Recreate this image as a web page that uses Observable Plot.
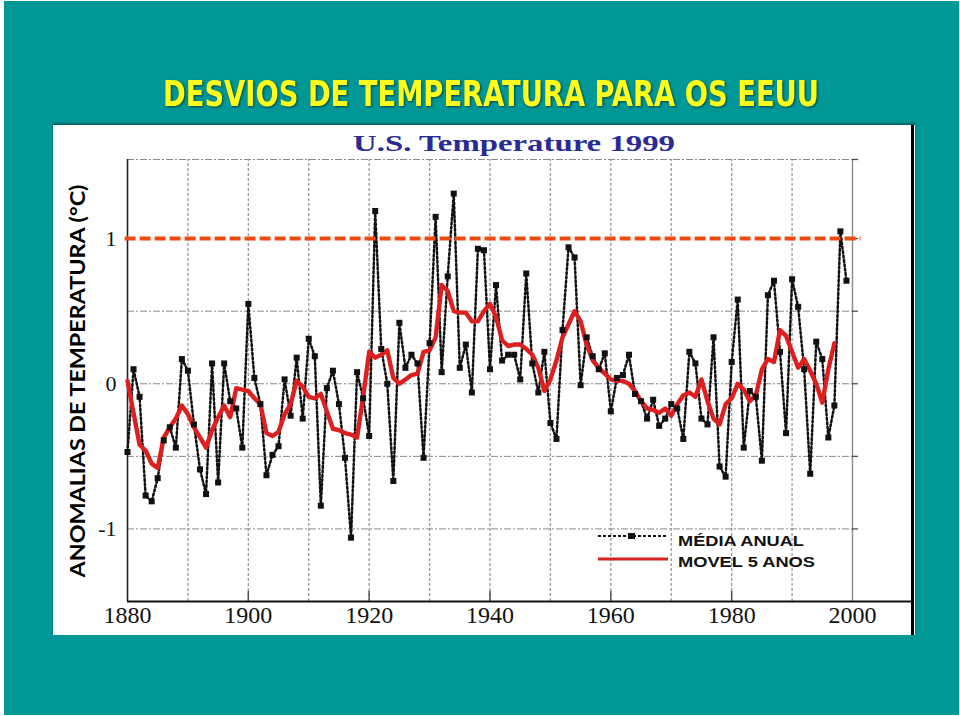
<!DOCTYPE html>
<html>
<head>
<meta charset="utf-8">
<script src="https://cdn.jsdelivr.net/npm/d3@7"></script>
<script src="https://cdn.jsdelivr.net/npm/@observablehq/plot@0.6"></script>
<style>
  html, body { margin: 0; padding: 0; }
  body { width: 960px; height: 716px; background: #009797; position: relative; overflow: hidden; }
  #edge { position: absolute; left: 0; top: 0; width: 960px; height: 716px; box-shadow: inset 4px 1px 0 0 #fff, inset -1px -1px 0 0 #fff; pointer-events: none; }
  #panel { position: absolute; left: 53px; top: 125px; width: 862px; height: 510px; background: #fff; box-shadow: 0 -2px 2px rgba(0,0,0,0.35); }
  #rborder { position: absolute; left: 911px; top: 125px; width: 3px; height: 510px; background: #000; }
  #overlay { position: absolute; left: 0; top: 0; }
</style>
</head>
<body>
<div id="edge"></div>
<div id="panel"></div>
<div id="rborder"></div>
<svg id="overlay" width="960" height="716"></svg>
<script>
// ---- data ----
const annualYears = d3.range(1880, 2000);
const annualValues = [
  -0.47, 0.10, -0.09, -0.77, -0.81, -0.65, -0.39, -0.30, -0.44, 0.17,   // 1880s
   0.09, -0.28, -0.59, -0.76, 0.14, -0.68, 0.14, -0.12, -0.17, -0.44,   // 1890s
   0.55, 0.04, -0.14, -0.63, -0.49, -0.43, 0.03, -0.22, 0.18, -0.24,    // 1900s
   0.31, 0.19, -0.84, -0.03, 0.09, -0.14, -0.51, -1.06, 0.08, -0.10,    // 1910s
  -0.36, 1.19, 0.24, 0.00, -0.67, 0.42, 0.11, 0.20, 0.14, -0.51,        // 1920s
   0.28, 1.15, 0.08, 0.74, 1.31, 0.11, 0.27, -0.06, 0.93, 0.92,         // 1930s
   0.10, 0.68, 0.16, 0.20, 0.20, 0.03, 0.76, 0.14, -0.06, 0.22,         // 1940s
  -0.27, -0.38, 0.37, 0.94, 0.87, -0.01, 0.32, 0.19, 0.10, 0.21,        // 1950s
  -0.19, 0.04, 0.06, 0.20, -0.07, -0.12, -0.24, -0.11, -0.29, -0.24,    // 1960s
  -0.14, -0.17, -0.38, 0.22, 0.14, -0.24, -0.28, 0.32, -0.57, -0.64,    // 1970s
   0.15, 0.58, -0.44, -0.05, -0.09, -0.53, 0.61, 0.71, 0.22, -0.34,     // 1980s
   0.72, 0.53, 0.10, -0.62, 0.29, 0.17, -0.37, -0.15, 1.05, 0.71        // 1990s
];
const movingYears = d3.range(1880, 1998);
const movingValues = [
   0.02, -0.20, -0.42, -0.46, -0.55, -0.58, -0.37, -0.30, -0.24, -0.15, // 1880s
  -0.21, -0.30, -0.37, -0.44, -0.32, -0.23, -0.15, -0.23, -0.03, -0.04, // 1890s
  -0.05, -0.10, -0.14, -0.34, -0.36, -0.33, -0.21, -0.14, 0.02, -0.02,  // 1900s
  -0.09, -0.10, -0.07, -0.19, -0.31, -0.32, -0.34, -0.35, -0.37, -0.09, // 1910s
   0.22, 0.18, 0.20, 0.23, 0.04, 0.00, 0.03, 0.06, 0.07, 0.22,          // 1920s
   0.23, 0.32, 0.68, 0.64, 0.50, 0.49, 0.49, 0.43, 0.43, 0.50,          // 1930s
   0.55, 0.46, 0.30, 0.26, 0.27, 0.27, 0.24, 0.20, 0.11, -0.05,         // 1940s
   0.03, 0.16, 0.32, 0.41, 0.50, 0.43, 0.27, 0.16, 0.11, 0.07,          // 1950s
   0.03, 0.02, 0.02, 0.00, -0.05, -0.12, -0.17, -0.18, -0.20, -0.17,    // 1960s
  -0.22, -0.14, -0.08, -0.06, -0.09, 0.03, -0.12, -0.24, -0.28, -0.14,  // 1970s
  -0.10, 0.00, -0.04, -0.12, -0.08, 0.10, 0.17, 0.15, 0.37, 0.33,       // 1980s
   0.22, 0.11, 0.17, 0.09, 0.00, -0.13, 0.10, 0.28                      // 1990s
];
const xTickYears = [1880, 1900, 1920, 1940, 1960, 1980, 2000];
const yTickValues = [-1, 0, 1];
const gridYears = [1890, 1900, 1910, 1920, 1930, 1940, 1950, 1960, 1970, 1980, 1990];
const gridValues = [-1, -0.5, 0, 0.5, 1.545];
const refLevel = [1];
const titleText = "DESVIOS DE TEMPERATURA PARA OS EEUU";
const innerTitle = "U.S. Temperature 1999";
const yLabel = "ANOMALIAS DE TEMPERATURA (°C)";
const legendLabels = ["MÉDIA ANUAL", "MOVEL 5 ANOS"];

const annual = annualYears.map((y, i) => ({year: y, value: annualValues[i]}));
const moving = movingYears.map((y, i) => ({year: y, value: movingValues[i]}));

const serif = "Liberation Serif, Times New Roman, serif";

const chart = Plot.plot({
  width: 862,
  height: 510,
  marginLeft: 74,
  marginRight: 63,
  marginTop: 34,
  marginBottom: 34,
  x: {domain: [1880, 2000], axis: null},
  y: {domain: [-1.5, 1.545], axis: null},
  style: {background: "transparent", overflow: "visible"},
  marks: [
    // grid
    Plot.ruleX(gridYears, {y1: -1.5, y2: 1.545, stroke: "#9a9a9a", strokeWidth: 1.3, strokeDasharray: "3,2"}),
    Plot.ruleY(gridValues, {x1: 1880, x2: 2000, stroke: "#8a8a8a", strokeWidth: 1, strokeDasharray: "7,2,2,2"}),
    Plot.ruleX([2000], {y1: -1.5, y2: 1.545, stroke: "#8a8a8a", strokeWidth: 1.4}),
    Plot.ruleY([1.545, 1, 0.5, 0, -0.5, -1], {x1: 2000, x2: 2001, stroke: "#444", strokeWidth: 1.2}),
    Plot.ruleX(xTickYears.slice(1, -1), {y1: -1.5, y2: -1.43, stroke: "#555", strokeWidth: 1.5}),
    // frame
    Plot.ruleX([1880], {y1: -1.5, y2: 1.545, stroke: "#222", strokeWidth: 1.6}),
    Plot.ruleY([-1.5], {x1: 1880, x2: 2010, stroke: "#111", strokeWidth: 2}),
    // axes
    Plot.axisX(xTickYears, {anchor: "bottom", label: null, tickSize: 0, tickPadding: 4, fontSize: 24, fontFamily: serif, fill: "#111", tickFormat: d => String(d)}),
    Plot.axisY(yTickValues, {anchor: "left", label: null, tickSize: 0, tickPadding: 11, fontSize: 22, fontFamily: serif, fill: "#111", tickFormat: d => String(d)}),
    // annual series (dotted)
    Plot.line(annual, {x: "year", y: "value", stroke: "#111", strokeWidth: 2.5, strokeDasharray: "2,2.4"}),
    // 5-year moving average
    Plot.line(moving, {x: "year", y: "value", stroke: "#dd1f1f", strokeWidth: 4.4, strokeLinejoin: "round"}),
    // reference line at 1
    Plot.ruleY(refLevel, {x1: 1879.6, x2: 2001.4, stroke: "#ee4a12", strokeWidth: 4, strokeDasharray: "11,4"}),
    Plot.dot(annual, {x: "year", y: "value", symbol: "square", r: 3.4, fill: "#111", stroke: "none"})
  ]
});
document.getElementById("panel").appendChild(chart);
chart.style.position = "absolute";
chart.style.left = "0px";
chart.style.top = "0px";

// ---- overlay texts and legend ----
const ov = d3.select("#overlay");
ov.append("text")
  .attr("x", 491).attr("y", 106)
  .attr("text-anchor", "middle")
  .attr("textLength", 656).attr("lengthAdjust", "spacingAndGlyphs")
  .style("font-family", "'Liberation Sans Narrow', 'DejaVu Sans Condensed', Lato, sans-serif")
  .style("font-weight", "bold").style("font-size", "36px")
  .style("fill", "#ffff1a")
  .style("filter", "drop-shadow(1px 1px 1px rgba(0,0,0,0.55))")
  .text(titleText);

ov.append("text")
  .attr("x", 514).attr("y", 151)
  .attr("text-anchor", "middle")
  .attr("textLength", 322).attr("lengthAdjust", "spacingAndGlyphs")
  .style("font-family", "'Liberation Serif', 'Times New Roman', serif")
  .style("font-weight", "bold").style("font-size", "23px")
  .style("fill", "#2a2a96")
  .text(innerTitle);

ov.append("text")
  .attr("transform", "translate(85,381) rotate(-90)")
  .attr("text-anchor", "middle")
  .attr("textLength", 393).attr("lengthAdjust", "spacingAndGlyphs")
  .style("font-family", "Lato, 'Open Sans', 'Noto Sans', sans-serif")
  .style("font-weight", "bold").style("font-size", "21px")
  .style("fill", "#000")
  .text(yLabel);

// legend
const lg = ov.append("g");
lg.append("line").attr("x1", 598).attr("x2", 668).attr("y1", 536).attr("y2", 536)
  .attr("stroke", "#111").attr("stroke-width", 2).attr("stroke-dasharray", "3,2");
lg.append("rect").attr("x", 628).attr("y", 533).attr("width", 7).attr("height", 6).attr("fill", "#111");
lg.append("line").attr("x1", 598).attr("x2", 668).attr("y1", 559).attr("y2", 559)
  .attr("stroke", "#d42424").attr("stroke-width", 3.2);
[[546, 126], [567, 137]].forEach(([y, w], i) => {
  lg.append("text").attr("x", 678).attr("y", y)
    .attr("textLength", w).attr("lengthAdjust", "spacingAndGlyphs")
    .style("font-family", "'Liberation Sans', Arial, sans-serif")
    .style("font-weight", "bold").style("font-size", "15px")
    .style("fill", "#111")
    .text(legendLabels[i]);
});
</script>
</body>
</html>
